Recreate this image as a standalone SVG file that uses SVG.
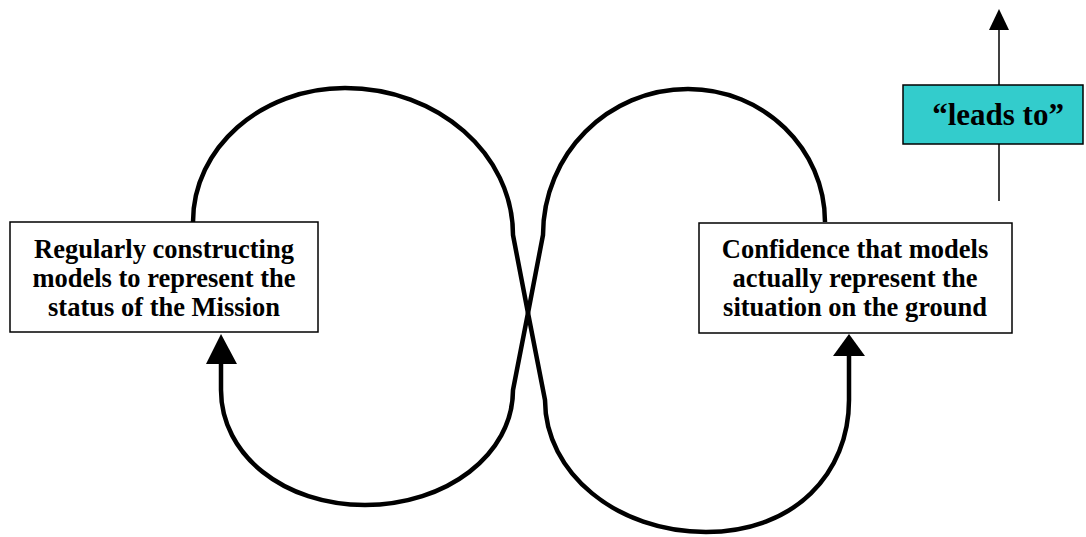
<svg xmlns="http://www.w3.org/2000/svg" width="1086" height="537" viewBox="0 0 1086 537">
  <style>
    .box { fill: #ffffff; stroke: #000000; stroke-width: 1.5; }
    .key { fill: #33cccc; stroke: #000000; stroke-width: 1.5; }
    .label { font-family: "Liberation Serif", "Times New Roman", serif; font-weight: bold; font-size: 26.5px; fill: #000000; text-anchor: middle; }
    .big { font-size: 31px; }
    .loop { fill: none; stroke: #000000; stroke-width: 4.5; stroke-linejoin: round; }
    .thin { fill: none; stroke: #000000; stroke-width: 1.5; }
    .head { fill: #000000; }
  </style>

  <g id="connectors">
    <!-- left upper lobe, crossing down into the right lower lobe -->
    <path class="loop" d="M193,222 C193,148 261,88 345,88 C438,88 513,154 513,235 L528,313 L545,400 C545,473 617,532 706,532 C795,532 849,473 849,400 L849,352"/>
    <polygon class="head" points="849,334 865,356 833,356"/>
    <!-- right upper lobe, crossing down into the left lower lobe -->
    <path class="loop" d="M825,222 C825,149 764,89 688,89 C608,89 543,154 543,235 L528,313 L513,390 C513,455 446,505 365,505 C284,505 221,455 221,390 L221,360"/>
    <polygon class="head" points="221,334 237,364 206,364"/>
    <!-- legend arrow -->
    <line class="thin" x1="999" y1="201" x2="999" y2="28"/>
    <polygon class="head" points="999,9 1009,30 989,30"/>
  </g>

  <g id="node-constructing">
    <rect class="box" x="10" y="222" width="308" height="110"/>
    <text class="label" x="164" y="258">Regularly constructing</text>
    <text class="label" x="164" y="287">models to represent the</text>
    <text class="label" x="164" y="316">status of the Mission</text>
  </g>

  <g id="node-confidence">
    <rect class="box" x="699" y="223" width="313" height="110"/>
    <text class="label" x="855" y="258">Confidence that models</text>
    <text class="label" x="855" y="287">actually represent the</text>
    <text class="label" x="855" y="316">situation on the ground</text>
  </g>

  <g id="legend">
    <rect class="key" x="903" y="85" width="180" height="59"/>
    <text class="label big" x="998" y="125">“leads to”</text>
  </g>
</svg>
